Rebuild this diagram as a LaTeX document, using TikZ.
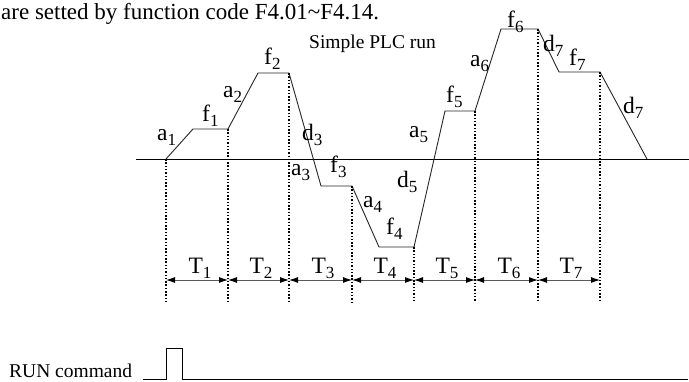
\documentclass[tikz,border=0pt]{standalone}
\usepackage{fontspec}
\setmainfont{Liberation Serif}
\usetikzlibrary{arrows.meta}
\newcommand\lsub[1]{\raisebox{-0.22em}{\fontsize{17}{18}\selectfont #1}}
\begin{document}
\begin{tikzpicture}[x=1pt,y=-1pt,
  lbl/.style={anchor=base west,inner sep=0pt,font=\fontsize{23.5}{26}\selectfont},
  tlbl/.style={anchor=base,inner sep=0pt,font=\fontsize{23.5}{26}\selectfont},
  plain/.style={anchor=base west,inner sep=0pt,font=\fontsize{19.5}{22}\selectfont},
  prof/.style={line width=0.9pt,black!85},
  axis/.style={line width=0.9pt,black},
  guide/.style={line width=1.1pt,dash pattern=on 1.5pt off 1.8pt,black},
  span/.style={line width=0.9pt,black!65,{Latex[length=9pt,width=6pt,black]}-{Latex[length=9pt,width=6pt,black]}}]
\useasboundingbox (0,0) rectangle (689,381);
\fill[white] (0,0) rectangle (689,381);
% header text
\node[anchor=base west,inner sep=0pt,font=\fontsize{23}{26}\selectfont] (hdr) at (1,19) {are setted by function code F4.01\textasciitilde F4.14.};
\node[plain] (title) at (309,48) {Simple PLC run};
% axis
\coordinate (ax0) at (136,159);
\coordinate (ax1) at (689,159);
\draw[axis] (ax0) -- (ax1);
% profile points
\coordinate (p0) at (166,159);
\coordinate (p1) at (193,129);
\coordinate (p2) at (228,129);
\coordinate (p3) at (258,73);
\coordinate (p4) at (289,73);
\coordinate (p5) at (321,186);
\coordinate (p6) at (352,186);
\coordinate (p7) at (379,247);
\coordinate (p8) at (414,247);
\coordinate (p9) at (445,111);
\coordinate (p10) at (475,111);
\coordinate (p11) at (501,29);
\coordinate (p12) at (538,29);
\coordinate (p13) at (559,72);
\coordinate (p14) at (600,72);
\coordinate (p15) at (647,159);
\draw[prof] (p0) -- (p1) -- (p2) -- (p3) -- (p4) -- (p5) -- (p6) -- (p7) -- (p8) -- (p9) -- (p10) -- (p11) -- (p12) -- (p13) -- (p14) -- (p15);
% guides
\foreach \i/\x in {0/166,2/228,4/289,6/352,8/414,10/475,12/538,14/600}{
  \coordinate (g\i) at (\x,302);
  \draw[guide] (p\i) -- (g\i);
}
% span arrows
\foreach \i/\x in {0/166,2/228,4/289,6/352,8/414,10/475,12/538,14/600}{
  \coordinate (s\i) at (\x,280);
}
\draw[span] (s0) -- (s2);
\draw[span] (s2) -- (s4);
\draw[span] (s4) -- (s6);
\draw[span] (s6) -- (s8);
\draw[span] (s8) -- (s10);
\draw[span] (s10) -- (s12);
\draw[span] (s12) -- (s14);
\node[tlbl] (T1) at (200,273) {T\lsub{1}};
\node[tlbl] (T2) at (261,273) {T\lsub{2}};
\node[tlbl] (T3) at (323,273) {T\lsub{3}};
\node[tlbl] (T4) at (385,273) {T\lsub{4}};
\node[tlbl] (T5) at (447,273) {T\lsub{5}};
\node[tlbl] (T6) at (509,273) {T\lsub{6}};
\node[tlbl] (T7) at (571,273) {T\lsub{7}};
% segment labels
\node[lbl] (la1) at (157,140) {a\lsub{1}};
\node[lbl] (lf1) at (202,121) {f\lsub{1}};
\node[lbl] (la2) at (223,97) {a\lsub{2}};
\node[lbl] (lf2) at (264,64) {f\lsub{2}};
\node[lbl] (ld3) at (302,140) {d\lsub{3}};
\node[lbl] (la3) at (291,175) {a\lsub{3}};
\node[lbl] (lf3) at (330,172) {f\lsub{3}};
\node[lbl] (la4) at (363,207) {a\lsub{4}};
\node[lbl] (lf4) at (386,234) {f\lsub{4}};
\node[lbl] (ld5) at (397,187) {d\lsub{5}};
\node[lbl] (la5) at (409,137) {a\lsub{5}};
\node[lbl] (lf5) at (446,102) {f\lsub{5}};
\node[lbl] (la6) at (470,66) {a\lsub{6}};
\node[lbl] (lf6) at (507,27) {f\lsub{6}};
\node[lbl] (ld7a) at (543,51) {d\lsub{7}};
\node[lbl] (lf7) at (569,65) {f\lsub{7}};
\node[lbl] (ld7b) at (623,113) {d\lsub{7}};
% RUN command
\node[plain] (run) at (9,377.5) {RUN command};
\coordinate (r0) at (143,379);
\coordinate (r1) at (166,379);
\coordinate (r2) at (166,348);
\coordinate (r3) at (182,348);
\coordinate (r4) at (182,379);
\coordinate (r5) at (688,379);
\draw[axis] (r0) -- (r1) -- (r2) -- (r3) -- (r4) -- (r5);
\end{tikzpicture}
\end{document}
